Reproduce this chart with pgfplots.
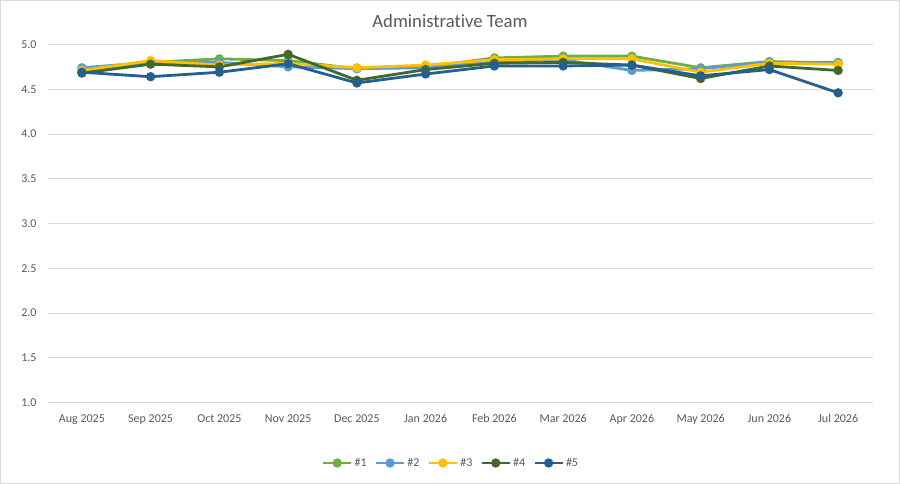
\documentclass[border=0pt]{standalone}
\usepackage{pgfplots}
\pgfplotsset{compat=1.18}
\usepackage{fontspec}
\setmainfont{Carlito}[Ligatures={NoCommon}]
\definecolor{cA}{HTML}{70AD47}
\definecolor{cB}{HTML}{5B9BD5}
\definecolor{cC}{HTML}{FFC000}
\definecolor{cD}{HTML}{43682B}
\definecolor{cE}{HTML}{255E91}
\definecolor{txt}{HTML}{595959}
\definecolor{grd}{HTML}{D9D9D9}
\begin{document}
\begin{tikzpicture}[x=1pt,y=1pt]
\useasboundingbox (0,0) rectangle (900,484);
\draw[color=grd,line width=0.8pt] (0.5,0.5) rectangle (899.5,483.5);
\node[text=txt,font=\fontsize{18.7}{20}\selectfont] at (450,462.5) {Administrative Team};
\begin{axis}[
  at={(47.5pt,81.5pt)}, anchor=south west,
  scale only axis, width=825pt, height=358pt,
  xmin=-0.5, xmax=11.5, ymin=1, ymax=5,
  xtick={0,...,11},
  xticklabels={Aug 2025,Sep 2025,Oct 2025,Nov 2025,Dec 2025,Jan 2026,Feb 2026,Mar 2026,Apr 2026,May 2026,Jun 2026,Jul 2026},
  ytick={1,1.5,...,5},
  yticklabel style={/pgf/number format/fixed,/pgf/number format/fixed zerofill,/pgf/number format/precision=1, xshift=-7.5pt},
  /pgf/number format/assume math mode=true,
  ticklabel style={text=txt,font=\fontsize{12}{14}\selectfont},
  xticklabel style={yshift=-8.5pt},
  axis line style={draw=none},
  tick style={draw=none},
  ymajorgrids, major grid style={color=grd,line width=0.9pt},
  every axis plot/.append style={line width=2.8pt, mark=*, mark size=3.2pt, mark options={solid}},
  legend columns=5,
  legend style={draw=none, fill=none, at={(0.489,-0.169)}, anchor=center,
    font=\fontsize{12}{14}\selectfont, text=txt,
    /tikz/every even column/.append style={column sep=6pt}},
  legend image code/.code={\draw[mark repeat=2,mark phase=2] plot coordinates {(0pt,0pt)(14pt,0pt)(28pt,0pt)};},
]
\addplot[color=cA] coordinates {(0,4.70)(1,4.80)(2,4.84)(3,4.82)(4,4.73)(5,4.75)(6,4.85)(7,4.87)(8,4.87)(9,4.74)(10,4.81)(11,4.79)};
\addlegendentry{\#1}
\addplot[color=cB] coordinates {(0,4.74)(1,4.80)(2,4.80)(3,4.75)(4,4.73)(5,4.74)(6,4.81)(7,4.83)(8,4.71)(9,4.73)(10,4.80)(11,4.80)};
\addlegendentry{\#2}
\addplot[color=cC] coordinates {(0,4.71)(1,4.82)(2,4.77)(3,4.79)(4,4.74)(5,4.77)(6,4.83)(7,4.84)(8,4.84)(9,4.69)(10,4.79)(11,4.78)};
\addlegendentry{\#3}
\addplot[color=cD] coordinates {(0,4.68)(1,4.78)(2,4.75)(3,4.89)(4,4.60)(5,4.72)(6,4.79)(7,4.80)(8,4.77)(9,4.62)(10,4.76)(11,4.71)};
\addlegendentry{\#4}
\addplot[color=cE] coordinates {(0,4.69)(1,4.64)(2,4.69)(3,4.785)(4,4.57)(5,4.67)(6,4.76)(7,4.76)(8,4.77)(9,4.65)(10,4.72)(11,4.46)};
\addlegendentry{\#5}
\end{axis}
\end{tikzpicture}
\end{document}
